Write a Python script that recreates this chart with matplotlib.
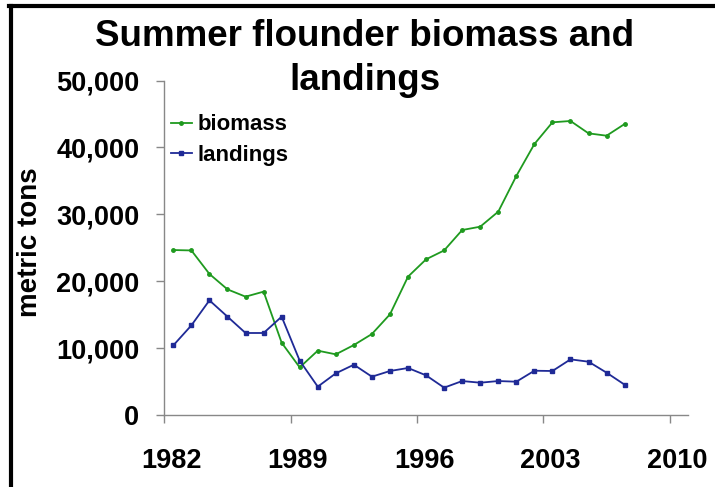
import matplotlib
matplotlib.use("Agg")
import matplotlib.pyplot as plt
import matplotlib.transforms as mtransforms
from matplotlib.lines import Line2D
from matplotlib.ticker import FuncFormatter

plt.rcParams['font.family'] = ['Liberation Sans', 'DejaVu Sans']
plt.rcParams['font.weight'] = 'bold'

years = list(range(1982, 2008))
biomass = [24660, 24600, 21080, 18780, 17690, 18440, 10810, 7120, 9620, 9070,
           10460, 12110, 15050, 20680, 23270, 24600, 27650, 28150, 30400, 35730,
           40500, 43750, 43950, 42100, 41750, 43500]
landings = [10410, 13400, 17140, 14700, 12260, 12260, 14700, 8120, 4240, 6230,
            7520, 5730, 6580, 7030, 5930, 4090, 5080, 4830, 5080, 4980,
            6620, 6580, 8320, 7970, 6330, 4530]
xticks = [1982, 1989, 1996, 2003, 2010]
yticks = [0, 10000, 20000, 30000, 40000, 50000]
title_lines = ['Summer flounder biomass and', 'landings']

fig = plt.figure(figsize=(7.15, 4.87), dpi=100)
ax = fig.add_axes([0.2298, 0.1478, 0.962 - 0.2298, 0.8347 - 0.1478])

# values are annual, drawn at mid-year like the source spreadsheet
xs = [y + 0.5 for y in years]
ax.plot(xs, biomass, color='#1f9a1f', lw=1.3, marker='o', ms=2.5, label='biomass')
ax.plot(xs, landings, color='#1f2a96', lw=1.3, marker='s', ms=3, label='landings')

ax.set_xlim(1982, 2011)
ax.set_ylim(0, 50000)
ax.set_xticks(xticks)
ax.set_yticks(yticks)
ax.yaxis.set_major_formatter(FuncFormatter(lambda v, p: f"{int(v):,}"))

for side in ['top', 'right']:
    ax.spines[side].set_visible(False)
for side in ['left', 'bottom']:
    ax.spines[side].set_color('#888888')
    ax.spines[side].set_linewidth(1.0)
ax.tick_params(axis='both', colors='#888888', length=6, width=1.0,
               labelcolor='black', labelsize=19.5)
ax.tick_params(axis='y', pad=12)
ax.tick_params(axis='x', pad=18)
shift = mtransforms.ScaledTranslation(0.07, 0, fig.dpi_scale_trans)
for lab in ax.get_xticklabels():
    lab.set_transform(lab.get_transform() + shift)

ax.set_ylabel('metric tons', fontsize=20, fontweight='bold')
ax.yaxis.set_label_coords(-0.232, 0.516)

ax.legend(loc='upper left', bbox_to_anchor=(-0.005, 0.925), frameon=False,
          fontsize=16, handlelength=0.95, handletextpad=0.25,
          labelspacing=0.42, borderaxespad=0)

# two-line title, one text per line
for line, ypix in zip(title_lines, [37, 80]):
    fig.text(365 / 715, 1 - ypix / 487, line, ha='center', va='center',
             fontsize=26.5, fontweight='bold')

# black frame on left and top
fig.add_artist(Line2D([11 / 715, 11 / 715], [0, 1 - 5.5 / 487],
                      transform=fig.transFigure, color='black', lw=3))
fig.add_artist(Line2D([9 / 715, 1], [1 - 5.5 / 487, 1 - 5.5 / 487],
                      transform=fig.transFigure, color='black', lw=3))

fig.savefig('out.png', dpi=100)
